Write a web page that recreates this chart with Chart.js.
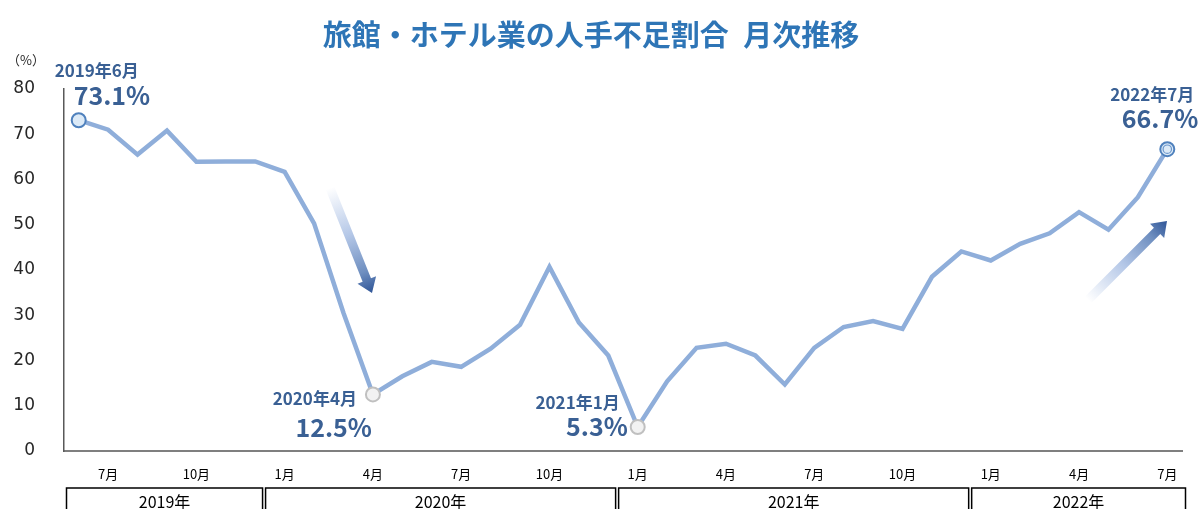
<!DOCTYPE html>
<html><head><meta charset="utf-8">
<script src="https://cdn.jsdelivr.net/npm/chart.js@4.4.0/dist/chart.umd.min.js"></script>
<style>html,body{margin:0;padding:0;background:#fff;}#wrap{width:1200px;height:509px;position:relative;overflow:hidden;}</style>
</head><body><div id="wrap"><canvas id="c" width="1200" height="509"></canvas></div>
<script>
// ---- data ----
const categories = [
  "2019年6月","2019年7月","2019年8月","2019年9月","2019年10月","2019年11月","2019年12月",
  "2020年1月","2020年2月","2020年3月","2020年4月","2020年5月","2020年6月","2020年7月","2020年8月","2020年9月","2020年10月","2020年11月","2020年12月",
  "2021年1月","2021年2月","2021年3月","2021年4月","2021年5月","2021年6月","2021年7月","2021年8月","2021年9月","2021年10月","2021年11月","2021年12月",
  "2022年1月","2022年2月","2022年3月","2022年4月","2022年5月","2022年6月","2022年7月"
];
const shortageRate = [
  73.1, 71.0, 65.5, 70.8, 63.9, 64.0, 64.0,
  61.7, 50.3, 30.5, 12.5, 16.5, 19.7, 18.6, 22.6, 27.9, 40.7, 28.4, 21.1,
  5.3, 15.4, 22.8, 23.7, 21.1, 14.7, 22.8, 27.4, 28.7, 27.0, 38.5, 44.1,
  42.1, 45.8, 48.1, 52.8, 48.9, 56.1, 66.7
];
const shownMonths = [1, 4, 7, 10];
const yearLabels = ["2019年", "2020年", "2021年", "2022年"];
const yearLastIndex = [6, 18, 30, 37];
const yTickMin = 0, yTickMax = 80, yTickStep = 10;
const highlightIndex = [0, 10, 19, 37];
const highlightDate = ["2019年6月", "2020年4月", "2021年1月", "2022年7月"];
const highlightValue = ["73.1%", "12.5%", "5.3%", "66.7%"];
const titleText = "旅館・ホテル業の人手不足割合\u2002月次推移";
const unitText = "（%）";

// ---- styles ----
const JP = "'Noto Sans CJK JP', 'Noto Sans', sans-serif";
const annoColor = "#3A6094";
const lineColor = "#8FAEDA";
const monthOf = c => parseInt(c.match(/年(\d+)月/)[1], 10);

// label placement relative to the highlighted point (style only)
const annoLayout = [
  {date:{dx:-24, dy:-50, align:'left'},  val:{dx:-5,  dy:-25, align:'left'}},
  {date:{dx:-16, dy:4,   align:'right'}, val:{dx:-1,  dy:33,  align:'right'}},
  {date:{dx:-18, dy:-24, align:'right'}, val:{dx:-10, dy:-1,  align:'right'}},
  {date:{dx:27,  dy:-55, align:'right'}, val:{dx:31,  dy:-31, align:'right'}}
];

function drawArrow(ctx, tx, ty, px, py, w, hl, hw) {
  const dx = px - tx, dy = py - ty, L = Math.hypot(dx, dy);
  const ux = dx / L, uy = dy / L, nx = -uy, ny = ux;
  const sx = px - ux * hl, sy = py - uy * hl;
  const g = ctx.createLinearGradient(tx, ty, px, py);
  g.addColorStop(0, 'rgba(255,255,255,1)');
  g.addColorStop(0.45, '#B4C7E7');
  g.addColorStop(0.8, '#6F8FC0');
  g.addColorStop(1, '#2F5597');
  ctx.beginPath();
  ctx.moveTo(tx + nx * w / 2, ty + ny * w / 2);
  ctx.lineTo(sx + nx * w / 2, sy + ny * w / 2);
  ctx.lineTo(sx + nx * hw / 2, sy + ny * hw / 2);
  ctx.lineTo(px, py);
  ctx.lineTo(sx - nx * hw / 2, sy - ny * hw / 2);
  ctx.lineTo(sx - nx * w / 2, sy - ny * w / 2);
  ctx.lineTo(tx - nx * w / 2, ty - ny * w / 2);
  ctx.closePath();
  ctx.fillStyle = g;
  ctx.fill();
}

const decor = {
  id: 'decor',
  afterDraw(chart) {
    const ctx = chart.ctx, xs = chart.scales.x, ys = chart.scales.y, ca = chart.chartArea;
    ctx.save();
    // unit
    ctx.fillStyle = '#262626';
    ctx.font = "13px " + JP;
    ctx.textAlign = 'left'; ctx.textBaseline = 'middle';
    ctx.fillText(unitText, 7, 60);
    // arrows
    drawArrow(ctx, 330, 188, 372, 293, 9, 14, 20);
    drawArrow(ctx, 1088, 300, 1167, 221, 9, 14, 20);
    // inner ring on last point
    const li = highlightIndex[highlightIndex.length - 1];
    const lx = xs.getPixelForValue(li), ly = ys.getPixelForValue(shortageRate[li]);
    ctx.beginPath(); ctx.arc(lx, ly, 4.2, 0, Math.PI * 2);
    ctx.strokeStyle = '#6A96CC'; ctx.lineWidth = 1.2; ctx.stroke();
    // annotations
    ctx.fillStyle = annoColor;
    highlightIndex.forEach((idx, k) => {
      const x = xs.getPixelForValue(idx), y = ys.getPixelForValue(shortageRate[idx]);
      const lay = annoLayout[k];
      ctx.textBaseline = 'middle';
      ctx.font = "bold 17px " + JP;
      ctx.textAlign = lay.date.align;
      ctx.fillText(highlightDate[k], x + lay.date.dx, y + lay.date.dy);
      ctx.font = "bold 25px " + JP;
      ctx.textAlign = lay.val.align;
      ctx.fillText(highlightValue[k], x + lay.val.dx, y + lay.val.dy);
    });
    // year boxes
    const step = xs.getPixelForValue(1) - xs.getPixelForValue(0);
    const top = 488, bot = 520;
    ctx.strokeStyle = '#000'; ctx.lineWidth = 1.5;
    ctx.fillStyle = '#000';
    ctx.font = "16px " + JP;
    ctx.textAlign = 'center'; ctx.textBaseline = 'middle';
    let left = ca.left + 2.5;
    yearLastIndex.forEach((last, k) => {
      let right;
      if (k === yearLastIndex.length - 1) right = ca.right + 3.5;
      else right = xs.getPixelForValue(last) + step * 0.3 - 1.5;
      ctx.strokeRect(left, top, right - left, bot - top);
      ctx.fillText(yearLabels[k], (left + right) / 2, 502);
      left = right + 3;
    });
    ctx.restore();
  }
};

new Chart(document.getElementById('c'), {
  type: 'line',
  data: {
    labels: categories,
    datasets: [{
      data: shortageRate,
      borderColor: lineColor,
      borderWidth: 4.5,
      tension: 0,
      fill: false,
      pointRadius: c => highlightIndex.includes(c.dataIndex) ? 7 : 0,
      pointHoverRadius: c => highlightIndex.includes(c.dataIndex) ? 7 : 0,
      pointBorderWidth: 2,
      pointBackgroundColor: c => (c.dataIndex === 10 || c.dataIndex === 19) ? '#F2F2F2' : '#DCEAF7',
      pointBorderColor: c => (c.dataIndex === 10 || c.dataIndex === 19) ? '#C0C0C0' : '#4F81BD'
    }]
  },
  options: {
    responsive: false,
    animation: false,
    devicePixelRatio: 1,
    layout: { padding: { left: 0, right: 18, top: 0, bottom: 0 } },
    plugins: {
      legend: { display: false },
      tooltip: { enabled: false },
      title: {
        display: true, text: titleText, color: '#2E75B6',
        font: { family: JP, size: 29, weight: 'bold' },
        padding: { top: 18, bottom: 36.2 }
      }
    },
    scales: {
      x: {
        type: 'category', offset: true,
        grid: { display: false, drawTicks: false },
        border: { display: true, color: '#7F7F7F', width: 2 },
        ticks: {
          autoSkip: false, maxRotation: 0, minRotation: 0, padding: 15,
          color: '#000', font: { family: JP, size: 13 },
          callback: (v, i) => shownMonths.includes(monthOf(categories[i])) ? monthOf(categories[i]) + '月' : ''
        },
        afterFit: s => { s.height = 58; }
      },
      y: {
        min: yTickMin, max: yTickMax,
        grid: { display: false, drawTicks: false },
        border: { display: true, color: '#595959', width: 1.5 },
        ticks: { stepSize: yTickStep, padding: 29, color: '#262626', font: { family: "'DejaVu Sans', sans-serif", size: 17 } },
        afterFit: s => { s.width = 64; }
      }
    }
  },
  plugins: [decor]
});
</script></body></html>
